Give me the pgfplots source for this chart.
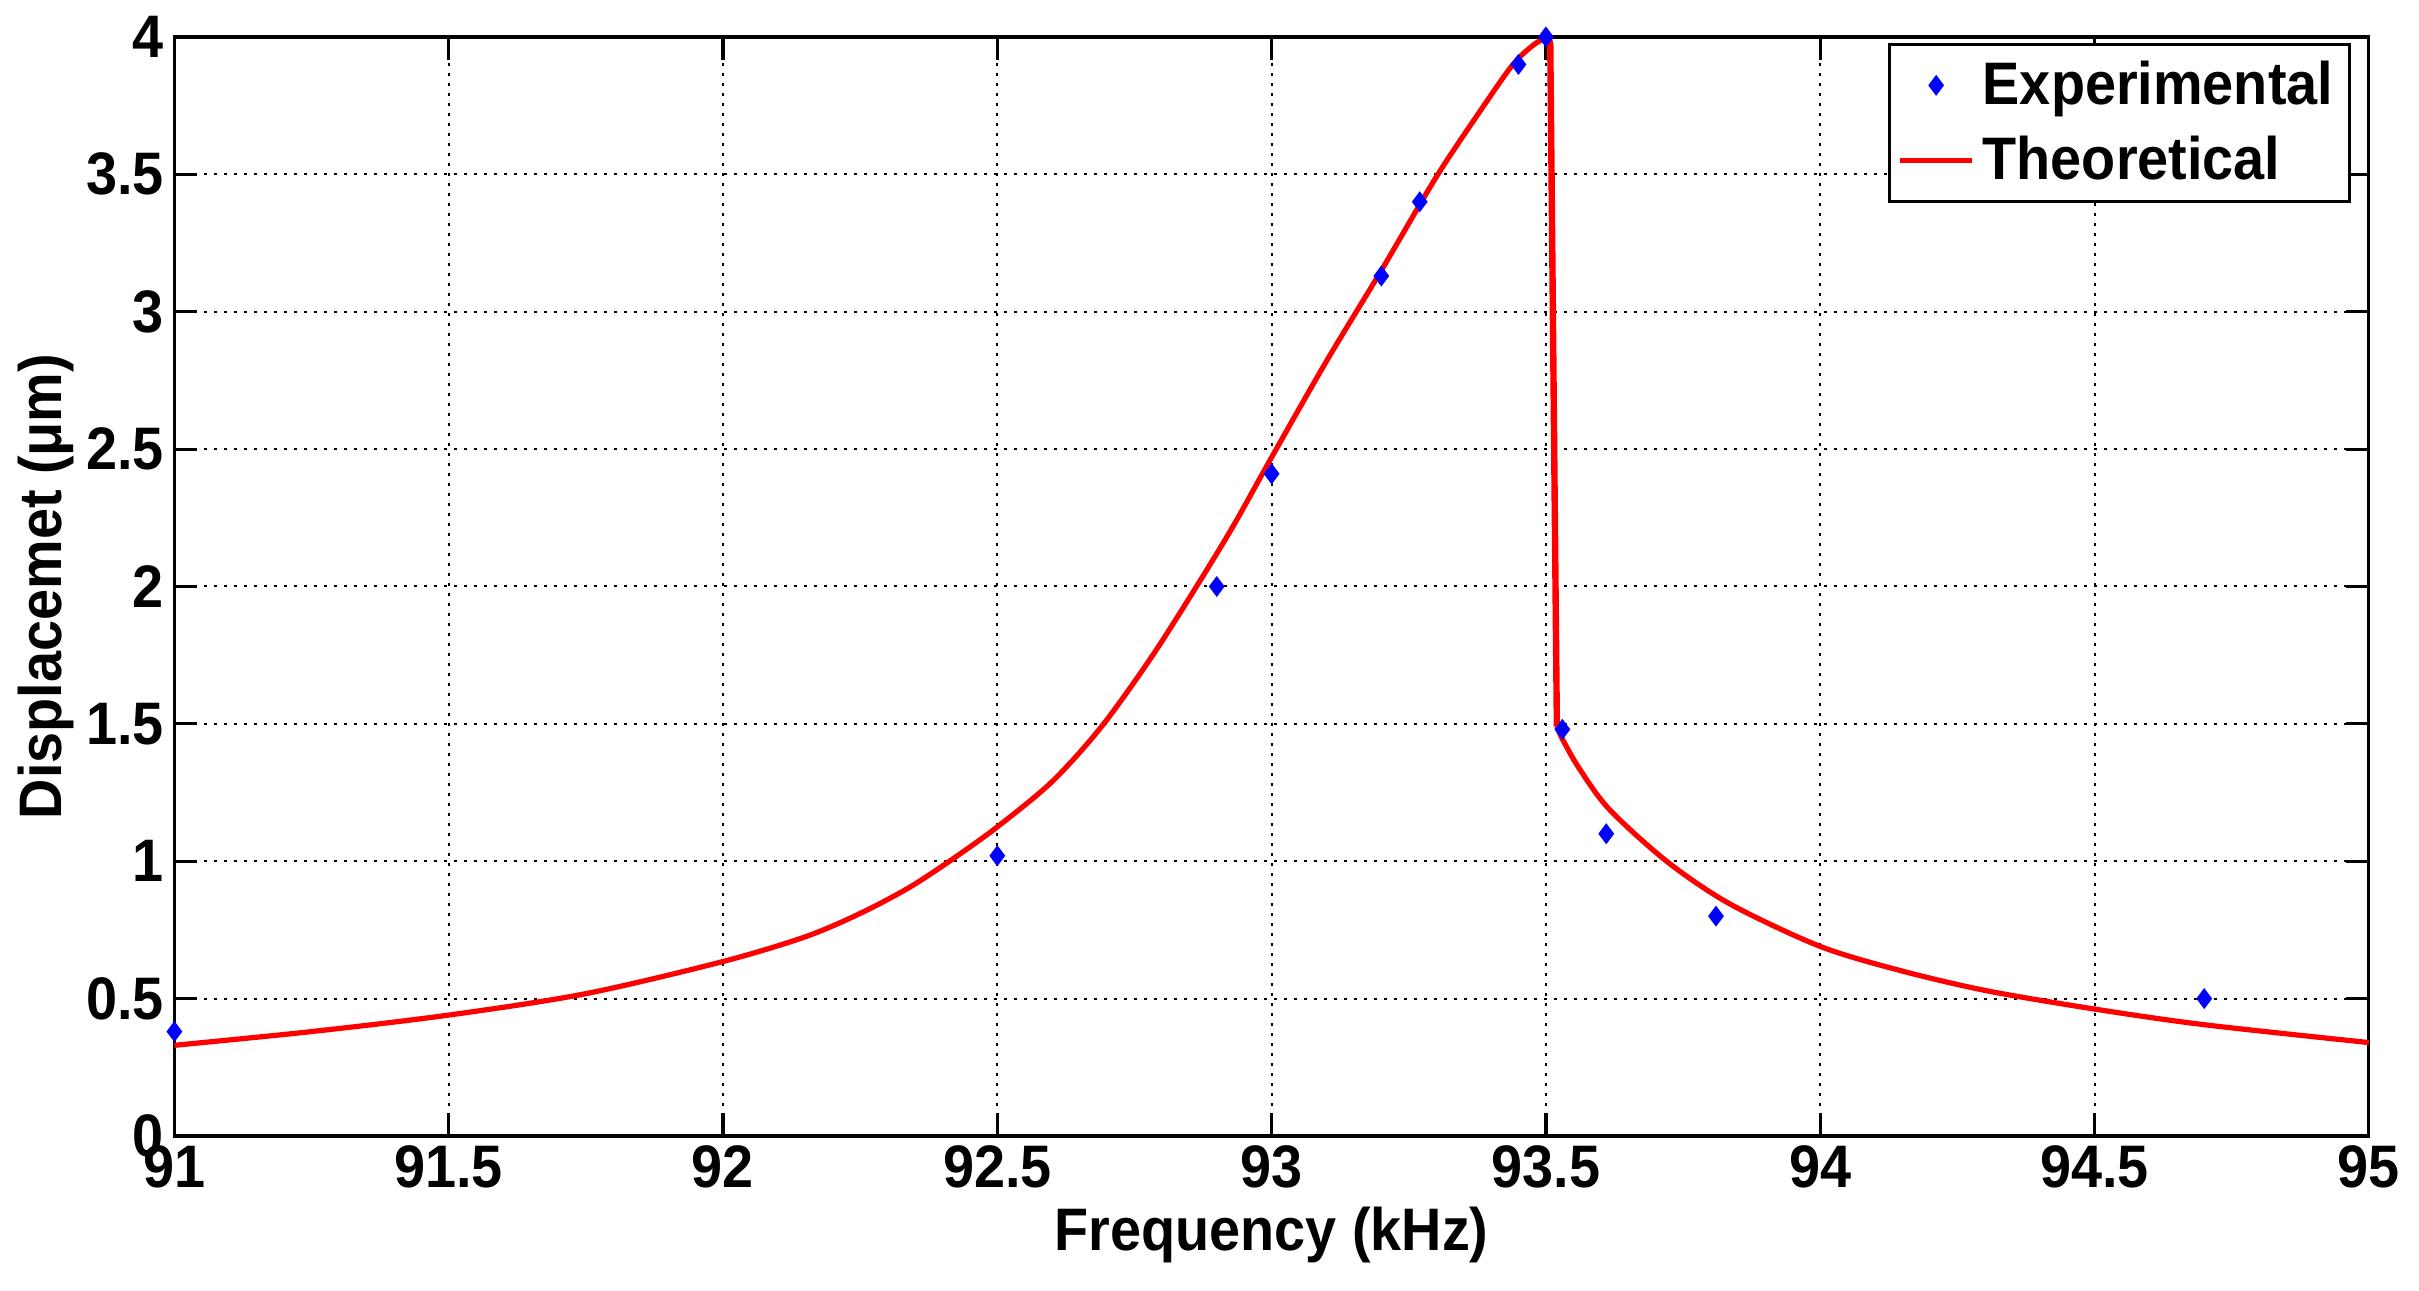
\documentclass[border=0pt]{standalone}
\usepackage{fontspec}
\setmainfont{Liberation Sans}[FakeStretch=0.93]
\usepackage{pgfplots}
\pgfplotsset{compat=1.18}
\newcommand\ff{\fontsize{15}{17}\selectfont\bfseries}
\begin{document}
\begin{tikzpicture}
\useasboundingbox (-43.6pt,-38.75pt) rectangle (561.15pt,284pt);
\begin{axis}[
  at={(0,0)}, anchor=south west,
  scale only axis, width=548.6pt, height=274.75pt,
  xmin=91, xmax=95, ymin=0, ymax=4,
  xtick={91,91.5,92,92.5,93,93.5,94,94.5,95},
  ytick={0,0.5,1,1.5,2,2.5,3,3.5,4},
  tick align=inside, major tick length=5.7pt,
  grid=major,
  major grid style={black, line width=0.5pt, dash pattern=on 0.7pt off 1.8pt},
  axis line style={line width=0.8pt},
  tick style={line width=0.8pt, black},
  tick label style={font=\ff},
  /pgf/number format/assume math mode=true,
  xticklabel style={anchor=base, yshift=-13pt, inner sep=0pt},
  yticklabel style={anchor=east, inner sep=0pt, xshift=-2.5pt},
  xlabel={Frequency (kHz)}, ylabel={Displacemet (μm)},
  every axis x label/.style={at={(axis description cs:0.5,-0.104)}, anchor=base, font=\ff},
  every axis y label/.style={at={(axis description cs:-0.0585,0.5)}, rotate=90, anchor=center, font=\ff},
  legend style={at={(1,1)}, anchor=north east, xshift=-4.5pt, yshift=-1.5pt,
    draw=black, line width=0.8pt, font=\ff, inner xsep=2pt, inner ysep=2pt,
    row sep=2.5pt, cells={anchor=west}},
  legend image code/.code={\draw[mark repeat=2,mark phase=2,#1] plot coordinates {(0pt,0pt) (9pt,0pt) (18pt,0pt)};},
  reverse legend,
]
% rising branch
\addplot[red, line width=1.3pt, smooth, tension=0.5, forget plot] coordinates {
(91.00,0.330) (91.25,0.380) (91.50,0.440) (91.75,0.518) (92.00,0.635)
(92.15,0.725) (92.25,0.810) (92.34,0.905) (92.42,1.010) (92.50,1.125)
(92.60,1.290) (92.69,1.490) (92.78,1.740) (92.86,1.990) (92.93,2.220)
(93.00,2.470) (93.10,2.820) (93.20,3.150) (93.30,3.490) (93.38,3.730)
(93.44,3.900) (93.48,3.975) (93.505,4.000)
};
% jump
\addplot[red, line width=1.6pt, forget plot] coordinates {
(93.505,4.000) (93.508,3.970) (93.52,1.490)
};
% falling branch
\addplot[red, line width=1.3pt, smooth, tension=0.5] coordinates {
(93.52,1.490) (93.53,1.445) (93.56,1.340) (93.615,1.190)
(93.72,1.000) (93.835,0.845) (94.00,0.690) (94.15,0.600) (94.305,0.528)
(94.50,0.462) (94.70,0.405) (95.00,0.340)
};
\addlegendentry{Theoretical}
\addplot[only marks, mark=diamond*, mark size=2.3pt, blue, mark options={fill=blue, draw=blue, line width=0.4pt}] coordinates {
(91.00,0.38) (92.50,1.02) (92.90,2.00) (93.00,2.41) (93.20,3.13)
(93.27,3.40) (93.45,3.90) (93.50,4.00) (93.53,1.48) (93.61,1.10)
(93.81,0.80) (94.70,0.50)
};
\addlegendentry{Experimental}
\end{axis}
\end{tikzpicture}
\end{document}
